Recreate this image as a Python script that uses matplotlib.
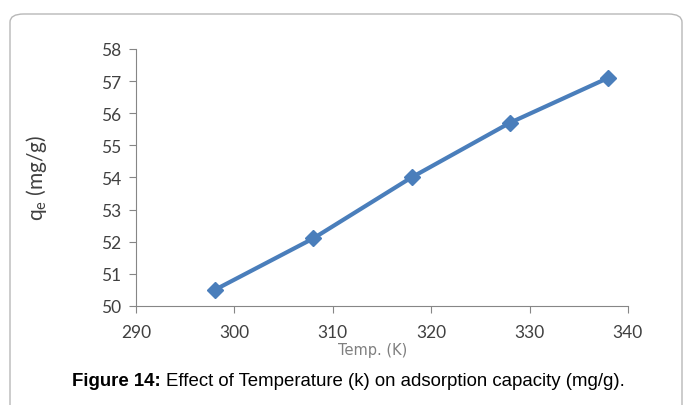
#Effect of temperature on adsorption capacity
#Recreating Figure 14 with matplotlib

#Import methods that will help us for the plot
import matplotlib.pyplot as plt
from matplotlib.patches import FancyBboxPatch
import numpy as np

#Our data
temp = [298, 308, 318, 328, 338]
qe = [50.5, 52.1, 54.0, 55.7, 57.1]
xticks = [290, 300, 310, 320, 330, 340]
yticks = [50, 51, 52, 53, 54, 55, 56, 57, 58]

fig = plt.figure(figsize=(6.84, 4.06), dpi=100)

#Rounded box round the whole figure
box = FancyBboxPatch((10/684, -0.2), 672/684, 1.2 - 15/406,
                     boxstyle="round,pad=0,rounding_size=0.02",
                     transform=fig.transFigure, fill=False,
                     edgecolor='#b8b8b8', linewidth=1.0)
fig.patches.append(box)

ax = fig.add_axes([0.199, 0.244, 0.719, 0.633])
ax.plot(temp, qe, color='#4a7ebb', linewidth=3, marker='D',
        markersize=8, markerfacecolor='#4a7ebb', markeredgecolor='#4a7ebb')

ax.set_xlim(290, 340)
ax.set_ylim(50, 58)
ax.set_xticks(xticks)
ax.set_yticks(yticks)

#Only left and bottom axis lines like in excel
ax.spines['top'].set_visible(False)
ax.spines['right'].set_visible(False)
ax.spines['left'].set_color('#868686')
ax.spines['bottom'].set_color('#868686')
ax.tick_params(direction='out', length=5, color='#868686',
               labelsize=12.5, labelcolor='#404040', pad=6)
ax.tick_params(axis='x', pad=8)
for lab in ax.get_xticklabels() + ax.get_yticklabels():
    lab.set_family('Lato')

ax.set_ylabel("q$_\\mathregular{e}$ (mg/g)", fontsize=15, color='#404040', family='Lato')
ax.yaxis.set_label_coords(-0.178, 0.5)
ax.set_xlabel("Temp. (K)", fontsize=10.5, color='#7f7f7f')
ax.xaxis.set_label_coords(0.48, -0.14)

#Caption under the chart, bold part first then the rest right after it
t1 = fig.text(72/684, 20/406, "Figure 14:", fontsize=13.4, fontweight='bold',
              family='Liberation Sans', color='black', va='baseline')
fig.canvas.draw()
bb = t1.get_window_extent()
fig.text(bb.x1/684 + 5/684, 20/406, "Effect of Temperature (k) on adsorption capacity (mg/g).",
         fontsize=13.4, family='Liberation Sans', color='black', va='baseline')

plt.savefig('out.png', dpi=100)
